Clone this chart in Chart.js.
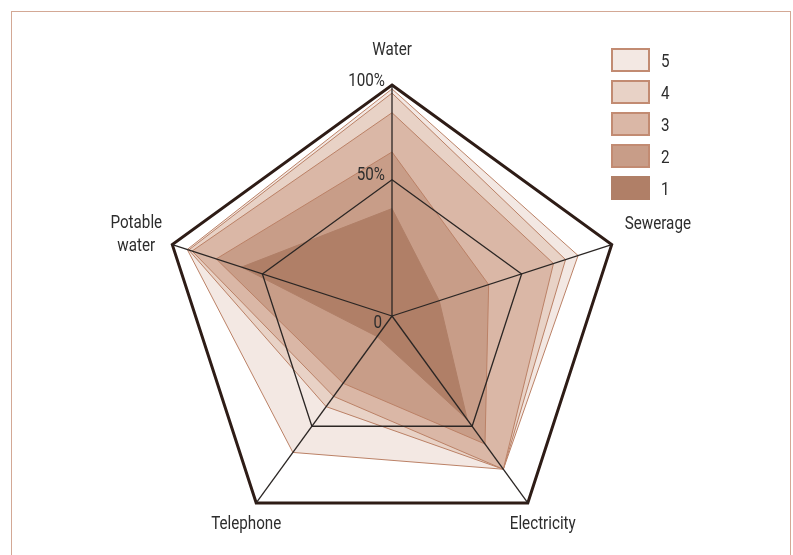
<!DOCTYPE html>
<html>
<head>
  <meta charset="UTF-8">
  <title>Infrastructure coverage radar</title>
  <script src="https://cdn.jsdelivr.net/npm/chart.js"></script>
  <style>
    body, html {
      margin: 0;
      padding: 0;
      background: #fff;
      font-family: "Roboto", sans-serif;
    }
    #wrap {
      position: relative;
      width: 793px;
      height: 555px;
      overflow: hidden;
    }
    #frame {
      position: absolute;
      left: 11px;
      top: 11px;
      width: 778px;
      height: 600px;
      border: 1.5px solid #d3a895;
    }
    canvas {
      position: absolute;
      left: 0;
      top: 0;
    }
    #legend {
      position: absolute;
      left: 611px;
      top: 48px;
    }
    .row {
      display: flex;
      align-items: center;
      height: 24px;
      margin-bottom: 8px;
    }
    .box {
      width: 39px;
      height: 24px;
      box-sizing: border-box;
      border: 2px solid #c28b72;
    }
    .row span {
      display: inline-block;
      margin-left: 11px;
      font-size: 19px;
      color: #2d2d2d;
      transform: scaleX(0.8);
      transform-origin: left center;
    }
  </style>
</head>
<body>
<div id="wrap">
  <div id="frame"></div>
  <canvas id="radar" width="793" height="555"></canvas>
  <div id="legend"></div>
</div>

<script>
  // axes, clockwise from the top
  const categories = ["Water", "Sewerage", "Electricity", "Telephone", ["Potable", "water"]];

  // how far out each group reaches on every spoke (outer ring = 100)
  const series1 = [46.5, 21.5, 55.5, 11, 68.5];
  const series2 = [71, 44, 68.5, 36, 80];
  const series3 = [88, 73.5, 82, 43, 91];
  const series4 = [96.5, 79, 82, 48.5, 92.5];
  const series5 = [98.3, 84.7, 82, 73, 93.2];

  const seriesNames = ["1", "2", "3", "4", "5"];
  const fills = ["#b07f67", "#c89d88", "#dab7a6", "#e8d2c6", "#f3e8e3"];
  const edge = "#bb8166";

  // the 50% ring sits a bit outside the half-way point in the original
  const tickValues = [0, 59, 100];
  const tickLabels = ["0", "50%", "100%"];

  const FONT = '19px "Roboto", sans-serif';
  const SQUEEZE = 0.8;

  // where the axis names sit relative to the outer corner
  const nameOffsets = [
    { dx: 0, dy: -35, align: 'center' },
    { dx: 13, dy: -20, align: 'left' },
    { dx: 15, dy: 21, align: 'center' },
    { dx: -10, dy: 21, align: 'center' },
    { dx: -36, dy: -21, align: 'center' }
  ];
  const tickOffsets = [
    { dx: -10, dy: 7 },
    { dx: -7, dy: -4 },
    { dx: -7, dy: -4 }
  ];

  function narrowText(ctx, t, x, y) {
    ctx.save();
    ctx.translate(x, y);
    ctx.scale(SQUEEZE, 1);
    ctx.fillText(t, 0, 0);
    ctx.restore();
  }

  const axisText = {
    id: 'axisText',
    afterDraw(chart) {
      const r = chart.scales.r;
      const ctx = chart.ctx;
      ctx.save();
      ctx.font = FONT;
      ctx.fillStyle = '#2d2d2d';
      ctx.textBaseline = 'middle';
      categories.forEach((lab, i) => {
        const p = r.getPointPositionForValue(i, r.max);
        const o = nameOffsets[i];
        const lines = Array.isArray(lab) ? lab : [lab];
        ctx.textAlign = o.align;
        lines.forEach((t, k) => narrowText(ctx, t, p.x + o.dx, p.y + o.dy + k * 23));
      });
      ctx.textAlign = 'right';
      tickValues.forEach((v, i) => {
        const p = r.getPointPositionForValue(0, v);
        narrowText(ctx, tickLabels[i], p.x + tickOffsets[i].dx, p.y + tickOffsets[i].dy);
      });
      ctx.restore();
    }
  };

  const allSeries = [series1, series2, series3, series4, series5];

  new Chart(document.getElementById('radar'), {
    type: 'radar',
    data: {
      labels: categories,
      datasets: allSeries.map((s, i) => ({
        label: seriesNames[i],
        data: s,
        backgroundColor: fills[i],
        borderColor: i === 0 ? fills[0] : edge,
        borderWidth: 1,
        pointRadius: 0,
        fill: true
      }))
    },
    options: {
      responsive: false,
      animation: false,
      layout: { padding: { top: 85, bottom: 8, left: 161, right: 170 } },
      plugins: {
        legend: { display: false },
        tooltip: { enabled: false }
      },
      scales: {
        r: {
          min: 0,
          max: 100,
          afterBuildTicks: (scale) => { scale.ticks = tickValues.map(v => ({ value: v })); },
          ticks: { display: false },
          pointLabels: { display: false },
          angleLines: { color: '#2b2624', lineWidth: 1.3 },
          grid: {
            z: 1,
            color: (c) => c.index === 2 ? '#2e1c16' : '#2b2624',
            lineWidth: (c) => c.index === 2 ? 3 : 1.3
          }
        }
      }
    },
    plugins: [axisText]
  });

  // legend, top entry is group 5
  const legend = document.getElementById('legend');
  for (let i = seriesNames.length - 1; i >= 0; i--) {
    const row = document.createElement('div');
    row.className = 'row';
    const box = document.createElement('div');
    box.className = 'box';
    box.style.background = fills[i];
    if (i === 0) box.style.borderColor = fills[0];
    const txt = document.createElement('span');
    txt.textContent = seriesNames[i];
    row.appendChild(box);
    row.appendChild(txt);
    legend.appendChild(row);
  }
</script>
</body>
</html>
